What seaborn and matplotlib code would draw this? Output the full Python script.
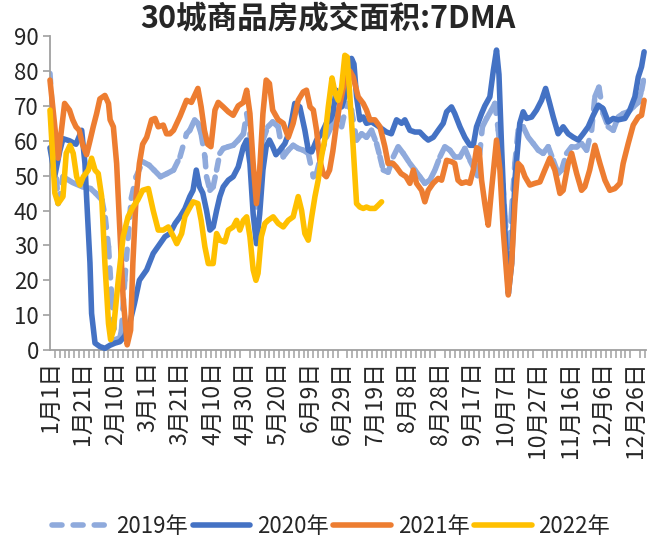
import numpy as np
import pandas as pd
import matplotlib
matplotlib.use('Agg')
import matplotlib.pyplot as plt
from matplotlib.collections import LineCollection
from matplotlib.lines import Line2D
import seaborn as sns

# day index from 1月1日 (leap-year calendar, as on the axis) and 7DMA values
days_2019 = [0, 5, 8, 14, 20, 25, 28, 32, 34, 36, 38, 40, 43, 44, 46, 48, 50, 53, 57, 61,
             64, 68, 72, 76, 80, 84, 86, 89, 91, 93, 95.3, 96.3, 98.4, 100.4, 102.5, 104.5,
             106.6, 109.7, 112.7, 115.8, 119, 121, 123, 125, 127, 129, 131, 134, 137, 140.4,
             143.5, 146.6, 149.6, 152.7, 155.8, 158.9, 162, 164, 167, 170, 173, 176, 179.4,
             182.5, 185.5, 188.6, 191.7, 194.7, 197.8, 200.9, 203, 205, 208, 211.2, 214.2,
             217.3, 221.4, 224.5, 227.5, 230.6, 233.7, 236.8, 239.9, 242.9, 246, 249, 252.2,
             255.2, 258.3, 261.4, 263, 266, 268.6, 271.6, 273.7, 275.8, 277.8, 279.9, 282,
             284, 286, 288, 291.1, 294.2, 297.3, 300.4, 303.4, 306.5, 309.6, 312.6, 314.7,
             317.8, 320.9, 324, 327, 330.1, 333.2, 335.2, 337.7, 340.3, 343.4, 346.5, 349.5,
             352.6, 355.7, 358.8, 361.9, 364, 365.5]
vals_2019 = [79.3, 42, 49.7, 48, 46.8, 46.3, 45, 43, 38, 29.6, 15, 3, 3.5, 5.7, 20, 32, 43.5,
             49.7, 54, 53, 51.6, 49.7, 50.6, 51.6, 55.4, 62, 63, 66, 65, 62, 55.4, 49.7, 45.8,
             46.8, 51.6, 56.4, 57.8, 58.3, 58.7, 60.2, 62, 67.8, 62, 50.6, 41, 50.6, 60.2, 64,
             65.4, 64, 55.4, 57.3, 58.7, 57.8, 57.3, 56.4, 49.7, 50.6, 56.4, 61, 64, 68.8, 64,
             70.7, 68.8, 60.2, 62, 61, 63, 59.2, 55.4, 51.6, 51, 55.4, 58.3, 56.4, 53.5, 51.6,
             49.7, 47.8, 48.7, 51.6, 55.4, 58.3, 57.3, 55.4, 55.4, 57.8, 54.4, 51.6, 50, 64,
             66.4, 68.8, 70.7, 63, 53.5, 38.2, 24.8, 40, 53.5, 63, 64, 61, 59.2, 57.3, 56.4,
             58.3, 54.4, 50.6, 51.6, 56.4, 58.3, 58.3, 59.2, 57.3, 63, 72.6, 75.4, 67.8, 64,
             63, 66.8, 67.8, 68.3, 69.7, 71, 74.5, 78.3]

days_2020 = [0, 3, 6, 8, 12, 16, 19.5, 21.5, 22.5, 24.6, 25.6, 27.7, 30.7, 33.8, 37, 40, 43,
             46, 49, 52, 55, 59.5, 63.5, 67.7, 70.7, 73.8, 77, 80, 83, 86, 88, 90, 92, 94,
             96.3, 98.4, 100.4, 102.5, 104.5, 106.6, 109.7, 112.7, 115.8, 119, 121, 123, 125,
             127, 129, 131, 133, 135, 137, 139, 141.4, 144.5, 147.6, 150.6, 153.7, 156.8,
             158.9, 161, 164, 167, 170, 172.5, 174, 176, 179.4, 181.4, 183.5, 185.5, 187,
             188.6, 190.6, 192.7, 194.7, 197.8, 200.9, 204, 207, 210, 213.2, 216.3, 218.3,
             221.4, 224.5, 227.5, 230.6, 232.7, 235.8, 238.8, 241.9, 244, 247, 249, 252.2,
             255.2, 258.3, 260.4, 262.4, 265.5, 267.5, 270.6, 272.7, 274.7, 276.2, 277.8,
             279.9, 282, 284, 286, 289, 291.1, 293.2, 296.3, 299.3, 302.4, 304.9, 306.9,
             309.6, 312.6, 315.7, 318.8, 321.9, 325, 328, 331.1, 334.2, 337.3, 340.3, 343.4,
             346.5, 349.5, 353.7, 356.7, 359.8, 361.9, 363.9, 365.5]
vals_2020 = [58, 50, 57, 60.6, 60, 59, 63, 53.5, 44, 25, 10.5, 2, 1, 0.5, 1.4, 2, 2.4, 4, 7.6,
             13.4, 20, 23, 27.7, 30.5, 32.5, 33.4, 36.3, 38.2, 40.5, 44, 45.8, 51.6, 46.8, 45,
             40, 34.4, 35.3, 40, 44, 46.8, 48.7, 49.7, 52.5, 58.3, 60.2, 53.5, 39, 30.5, 39,
             51.6, 58.3, 60.2, 58.3, 56, 57.3, 59.2, 63, 70.7, 69.7, 63, 57.3, 56.8, 60.2, 62,
             65, 66, 67.8, 74.5, 69.7, 72.6, 77.4, 83.6, 82, 72.6, 66, 66.8, 65, 65.4, 64.5,
             63.5, 62.5, 62, 66, 65, 66, 63, 62.5, 62.5, 61, 60.2, 61, 63, 65, 68.3, 69.7,
             67.8, 64, 61, 58.7, 58.7, 64, 67.8, 70, 72.6, 80, 86, 79, 58.3, 34.4, 16.2, 24.8,
             48.7, 65, 68.3, 66.4, 66.8, 68.8, 71.6, 75, 71.6, 66.8, 62, 64, 62, 61, 60.2, 62,
             64, 67.3, 70.2, 69.2, 65.4, 66.4, 66, 66.4, 68.8, 72.6, 78.3, 81.2, 85.5]

days_2021 = [0, 5, 9, 12, 14, 16, 18, 20, 22.5, 24.6, 26.6, 28.7, 30.7, 33.8, 36, 37, 39, 41,
             43, 45, 47.5, 49.6, 51, 53, 55, 57, 59.5, 62.5, 64.6, 66.6, 69.7, 71.7, 73.8, 76,
             80, 84, 87, 91, 93, 95, 97, 99, 101.5, 103.5, 106.6, 109.7, 112.7, 115.8, 119,
             121, 123, 125, 127, 129, 131, 133, 135, 137, 140.4, 143.5, 146.6, 149.6, 152.7,
             155.8, 157.8, 160, 162, 164, 166, 168, 170, 172, 174, 176, 178, 181.4, 184.5,
             186.5, 189.6, 192.7, 194.7, 196.8, 199.9, 203, 206, 208, 211, 213, 216, 219,
             221.4, 223.5, 225.5, 228.6, 230.6, 232.7, 235.7, 238.8, 240.9, 244, 247, 249,
             251, 253.2, 256, 258.3, 260.4, 262.5, 264, 265.5, 267.5, 269.6, 271.6, 274.7,
             276.8, 278.8, 281.9, 284, 286, 288, 290, 292.2, 295.2, 298.3, 301.4, 304.4,
             307.5, 310.6, 313.7, 315.7, 318.8, 320.9, 324, 327, 329, 332, 335.2, 338.3,
             341.4, 344.4, 347.5, 350.6, 352.6, 355.7, 358.8, 361.9, 363.9, 365.5]
vals_2021 = [77.4, 55, 70.7, 68.8, 66, 64, 63, 59, 56, 60, 64, 67.8, 72, 73, 70.7, 66, 64,
             53.5, 34, 15, 1.5, 5.7, 25, 44, 53.5, 59, 61, 66, 66.4, 64, 64.5, 62, 62, 63, 67,
             71.6, 71, 75, 69.7, 63, 59, 58.3, 68.8, 71, 69.7, 68.3, 67.3, 70, 71, 74.5, 67.8,
             53.5, 42, 51.6, 67.8, 77.4, 76.4, 68.8, 66, 65, 61, 65, 71.6, 74, 74.5, 69.7,
             68.8, 63, 54.4, 50.6, 49.7, 51.6, 57, 64, 69.7, 77.4, 80, 78.3, 72.6, 70.7, 68.8,
             66, 66, 64, 58.3, 53.5, 53.5, 52.5, 50.6, 49.7, 47.8, 51.6, 47.8, 45.8, 42.5,
             45.8, 47.8, 49.2, 48.7, 54.4, 54, 53.5, 48.7, 47.8, 48.2, 47.8, 51.6, 58, 57.5,
             48.7, 42, 35.8, 45.8, 60.2, 51.6, 34.4, 15.8, 24.8, 42, 53.5, 52.5, 49.7, 47.3,
             47.8, 48.2, 51.6, 55, 51.6, 44.9, 45.8, 53.5, 56.4, 50.6, 45.8, 46.8, 51.6, 58.7,
             53.5, 48.7, 45.8, 46.3, 47.8, 53.5, 59.2, 64.5, 66.8, 67.3, 71.6]

days_2022 = [0, 3, 5, 8, 10, 12.3, 14.3, 16.4, 18.4, 20.5, 23.6, 25.6, 27.7, 29.7, 31.8,
             33.8, 36, 37.3, 39, 42, 45, 48, 51, 54, 57, 60.5, 63.5, 66.6, 69.7, 72.8, 76, 78,
             81, 83, 85, 88, 91, 93, 95.3, 97.4, 100.4, 102.5, 104.5, 107.6, 109.7, 112.7,
             114.8, 116.8, 119, 121, 123, 125, 126.7, 128, 130, 132.2, 134.2, 137.3, 140.4,
             143.5, 146.6, 149.6, 152.7, 154.8, 156.8, 158.9, 161, 163, 165, 167, 169, 171.2,
             173.5, 175.5, 177.3, 179.4, 181.4, 182.9, 184.5, 186.5, 188.6, 190.6, 192.7,
             194.7, 196.8, 199.9, 201.9, 204]
vals_2022 = [68.8, 45, 42, 44, 56.4, 58.7, 56.4, 49.7, 47.3, 49.7, 51.6, 55, 51.6, 50.6, 44,
             24.8, 7.6, 3, 5.7, 20, 32.5, 38.2, 41, 43, 45.8, 46.3, 40, 34.4, 34.4, 35.3, 32.5,
             30.5, 33.4, 38.2, 40, 42.5, 42, 37.2, 29.6, 24.8, 24.8, 33.4, 31.5, 31, 34.4,
             35.3, 37.2, 34.4, 37.2, 38.2, 32.5, 23, 20, 22, 32.5, 36.3, 37.2, 38.2, 36.3,
             35.3, 37.2, 38.2, 44, 40, 33.4, 31.5, 38.2, 44, 48.7, 55.4, 60.2, 69.7, 78, 73.5,
             71.6, 75.4, 84.5, 84, 72.6, 58.3, 42, 41, 40.6, 41, 40.6, 40.6, 41.5, 42.5]

years = ['2019年', '2020年', '2021年', '2022年']
colors = ['#8FAADC', '#4472C4', '#ED7D31', '#FFC000']

tick_days = list(range(0, 361, 20))
tick_labels = ['1月1日', '1月21日', '2月10日', '3月1日', '3月21日', '4月10日', '4月30日',
               '5月20日', '6月9日', '6月29日', '7月19日', '8月8日', '8月28日', '9月17日',
               '10月7日', '10月27日', '11月16日', '12月6日', '12月26日']

df = pd.concat([
    pd.DataFrame({'day': d, 'value': v, 'year': y})
    for d, v, y in zip([days_2019, days_2020, days_2021, days_2022],
                       [vals_2019, vals_2020, vals_2021, vals_2022], years)
])

sns.set_style('white')
plt.rcParams['font.family'] = ['Noto Sans CJK SC', 'DejaVu Sans']

fig = plt.figure(figsize=(6.49, 5.47), dpi=100)
ax = fig.add_axes([0.077, 0.360, 0.918, 0.574])

lw = 4.0
sns.lineplot(data=df, x='day', y='value', hue='year', hue_order=years,
             palette=dict(zip(years, colors)), linewidth=lw, estimator=None,
             sort=False, legend=False, ax=ax)
for line in ax.lines:
    line.set_solid_capstyle('round')
    line.set_solid_joinstyle('round')
    line.set_clip_on(False)

# 2019 is dashed per segment (Excel restarts the dash on every segment)
l19 = ax.lines[0]
xy = l19.get_xydata()
segs = np.stack([xy[:-1], xy[1:]], axis=1)
lc = LineCollection(segs, colors=colors[0], linewidths=lw,
                    linestyles=[(0, (1.8, 2.0))], capstyle='round', zorder=2)
l19.set_visible(False)
ax.add_collection(lc)
for line in ax.lines[1:]:
    line.set_zorder(3)

ax.set_xlim(0, 366.5)
ax.set_ylim(0, 90)
ax.set_yticks(range(0, 91, 10))
ax.set_xticks(tick_days)
ax.set_xticklabels(tick_labels, rotation=90, va='top', ha='center')
ax.set_xticks(np.arange(0, 367, 3), minor=True)
ax.set_xlabel('')
ax.set_ylabel('')

for s in ['top', 'right']:
    ax.spines[s].set_visible(False)
for s in ['left', 'bottom']:
    ax.spines[s].set_color('#A0A0A0')
    ax.spines[s].set_linewidth(1.3)

ax.tick_params(axis='y', direction='out', length=5, width=1.2, color='#A0A0A0',
               labelsize=16, pad=3, left=True)
ax.tick_params(axis='x', which='major', length=0, labelsize=16.5, pad=8, bottom=True)
ax.tick_params(axis='x', which='minor', direction='out', length=6, width=1.1,
               color='#A0A0A0', bottom=True)

fig.text(0.505, 0.965, '30城商品房成交面积:7DMA', ha='center', va='center',
         fontsize=22, fontweight='bold')

handles = [Line2D([], [], color=colors[0], lw=lw, linestyle=(0, (1.8, 2.0)),
                  dash_capstyle='round')]
handles += [Line2D([], [], color=c, lw=lw, solid_capstyle='round') for c in colors[1:]]
fig.legend(handles, years, loc='center', bbox_to_anchor=(0.51, 0.037), ncol=4,
           frameon=False, fontsize=16, handlelength=2.6, handletextpad=0.3,
           columnspacing=0.2)

fig.savefig('out.png', dpi=100)
